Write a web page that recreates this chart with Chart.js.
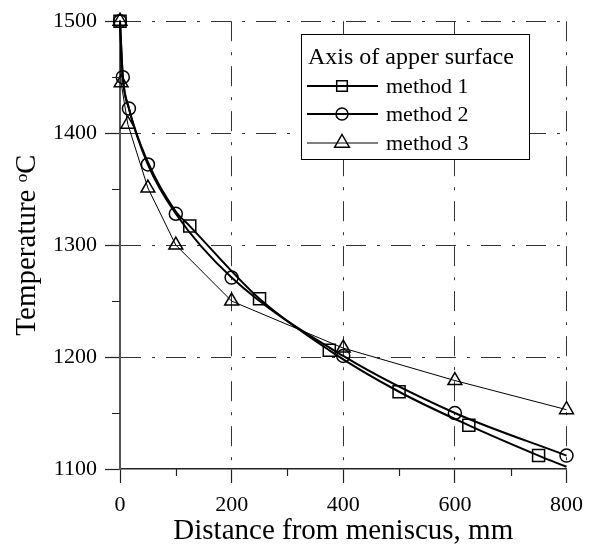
<!DOCTYPE html>
<html>
<head>
<meta charset="utf-8">
<script src="https://cdn.jsdelivr.net/npm/chart.js@4.4.1/dist/chart.umd.min.js"></script>
<style>
  html, body { margin: 0; padding: 0; background: #fff; }
  #wrap { width: 592px; height: 549px; }
</style>
</head>
<body>
<div id="wrap"><canvas id="chart" width="592" height="549"></canvas></div>
<script>
const FONT = "'Liberation Serif', 'Times New Roman', serif";

// axis ticks
const xMajor = [0, 200, 400, 600, 800];
const xMinor = [100, 300, 500, 700];
const yMajor = [1100, 1200, 1300, 1400, 1500];
const yMinor = [1150, 1250, 1350, 1450];

const xTitle = 'Distance from meniscus, mm';
const yTitle = 'Temperature ᵒC';
const legendTitle = 'Axis of apper surface';
const seriesNames = ['method 1', 'method 2', 'method 3'];

// method 1: markers only on some of the curve points
const m1Dist   = [0, 5, 15, 50, 100, 125, 250, 375, 500, 625, 750, 800];
const m1Temp   = [1500, 1451, 1424, 1374, 1330, 1317, 1252, 1206, 1169, 1139, 1112, 1102];
const m1Marked = [1, 0, 0, 0, 0, 1, 1, 1, 1, 1, 1, 0];

const m2Dist = [0, 5, 16, 50, 100, 200, 400, 600, 800];
const m2Temp = [1500, 1450, 1422, 1372, 1328, 1271, 1201, 1150, 1112];

const m3Dist = [0, 2, 14, 50, 100, 200, 400, 600, 800];
const m3Temp = [1500, 1445, 1408, 1351, 1300, 1250, 1208, 1179, 1153];

const toXY = (xs, ys) => xs.map((x, i) => ({ x, y: ys[i] }));

function drawMarker(ctx, style, x, y, r) {
  ctx.beginPath();
  if (style === 'rect') {
    const s = r * Math.SQRT1_2;
    ctx.rect(x - s, y - s, 2 * s, 2 * s);
  } else if (style === 'circle') {
    ctx.arc(x, y, r, 0, Math.PI * 2);
  } else {
    ctx.moveTo(x, y - r);
    ctx.lineTo(x + 0.866 * r, y + 0.5 * r);
    ctx.lineTo(x - 0.866 * r, y + 0.5 * r);
    ctx.closePath();
  }
  ctx.stroke();
}

const minorTicks = {
  id: 'minorTicks',
  afterDraw(chart) {
    const { ctx, chartArea: a, scales: { x, y } } = chart;
    ctx.save();
    ctx.strokeStyle = '#222';
    ctx.lineWidth = 1.2;
    ctx.beginPath();
    xMinor.forEach(v => {
      const px = Math.round(x.getPixelForValue(v)) + 0.5;
      ctx.moveTo(px, a.bottom);
      ctx.lineTo(px, a.bottom + 7);
    });
    yMinor.forEach(v => {
      const py = Math.round(y.getPixelForValue(v)) + 0.5;
      ctx.moveTo(a.left - 8, py);
      ctx.lineTo(a.left, py);
    });
    ctx.stroke();
    ctx.restore();
  }
};

const boxLegend = {
  id: 'boxLegend',
  afterDraw(chart) {
    const ctx = chart.ctx;
    const bx = 301, by = 34, bw = 228, bh = 125;
    ctx.save();
    ctx.fillStyle = '#fff';
    ctx.fillRect(bx, by, bw, bh);
    ctx.strokeStyle = '#000';
    ctx.lineWidth = 1;
    ctx.strokeRect(bx + 0.5, by + 0.5, bw, bh);

    ctx.fillStyle = '#000';
    ctx.textBaseline = 'middle';
    ctx.textAlign = 'left';
    ctx.font = `24px ${FONT}`;
    ctx.fillText(legendTitle, bx + 7, by + 24);

    ctx.font = `22px ${FONT}`;
    const rows = [by + 52, by + 80, by + 109];
    chart.data.datasets.forEach((ds, i) => {
      const yy = rows[i];
      ctx.strokeStyle = ds.borderColor;
      ctx.lineWidth = ds.borderWidth;
      ctx.beginPath();
      ctx.moveTo(bx + 6, yy);
      ctx.lineTo(bx + 77, yy);
      ctx.stroke();
      ctx.lineWidth = ds.pointBorderWidth;
      drawMarker(ctx, ds.pointStyle, bx + 41, yy, ds.legendRadius);
      ctx.fillText(ds.label, bx + 85, yy + 1);
    });
    ctx.restore();
  }
};

const gridDash = [20, 11, 3, 11];

new Chart(document.getElementById('chart'), {
  type: 'line',
  data: {
    datasets: [
      {
        label: seriesNames[0],
        data: toXY(m1Dist, m1Temp),
        borderColor: '#000', borderWidth: 2, clip: false,
        cubicInterpolationMode: 'monotone',
        pointStyle: 'rect',
        pointRadius: m1Marked.map(m => m ? 8.5 : 0),
        pointBorderWidth: 1.5, pointBorderColor: '#000',
        pointBackgroundColor: 'transparent',
        legendRadius: 7.5
      },
      {
        label: seriesNames[1],
        data: toXY(m2Dist, m2Temp),
        borderColor: '#000', borderWidth: 2, clip: false,
        cubicInterpolationMode: 'monotone',
        pointStyle: 'circle', pointRadius: 6.5,
        pointBorderWidth: 1.5, pointBorderColor: '#000',
        pointBackgroundColor: 'transparent',
        legendRadius: 6
      },
      {
        label: seriesNames[2],
        data: toXY(m3Dist, m3Temp),
        borderColor: '#000', borderWidth: 1, clip: false,
        tension: 0,
        pointStyle: 'triangle', pointRadius: 8,
        pointBorderWidth: 1.5, pointBorderColor: '#000',
        pointBackgroundColor: 'transparent',
        legendRadius: 8.5
      }
    ]
  },
  options: {
    responsive: false,
    animation: false,
    devicePixelRatio: 1,
    layout: { padding: { top: 18, right: 25, left: 0, bottom: 0 } },
    plugins: { legend: { display: false }, tooltip: { enabled: false } },
    scales: {
      x: {
        type: 'linear', min: 0, max: 800,
        afterFit: s => { s.height = 80; },
        ticks: {
          stepSize: 100, autoSkip: false, maxRotation: 0, padding: 9,
          color: '#000', font: { family: FONT, size: 22 },
          callback: v => xMajor.includes(v) ? String(v) : ''
        },
        grid: {
          lineWidth: 1, tickLength: 14, tickWidth: 1.2,
          color: c => (c.tick && c.tick.value !== 0 && xMajor.includes(c.tick.value)) ? '#333' : 'transparent',
          tickColor: c => (c.tick && xMajor.includes(c.tick.value)) ? '#222' : 'transparent'
        },
        border: { display: true, color: '#222', width: 1.5, dash: gridDash },
        title: {
          display: true, text: xTitle, color: '#000',
          font: { family: FONT, size: 29 }, padding: { top: 0, bottom: 0 }
        }
      },
      y: {
        type: 'linear', min: 1100, max: 1500,
        afterFit: s => { s.width = 120; },
        ticks: {
          stepSize: 50, autoSkip: false, padding: 8,
          color: '#000', font: { family: FONT, size: 22 },
          callback: v => yMajor.includes(v) ? String(v) : ''
        },
        grid: {
          lineWidth: 1, tickLength: 15, tickWidth: 1.2,
          color: c => (c.tick && c.tick.value !== 1100 && yMajor.includes(c.tick.value)) ? '#333' : 'transparent',
          tickColor: c => (c.tick && yMajor.includes(c.tick.value)) ? '#222' : 'transparent'
        },
        border: { display: true, color: '#555', width: 2, dash: gridDash },
        title: {
          display: true, text: yTitle, color: '#000',
          font: { family: FONT, size: 29 }, padding: { top: 10, bottom: 0 }
        }
      }
    }
  },
  plugins: [minorTicks, boxLegend]
});
</script>
</body>
</html>
